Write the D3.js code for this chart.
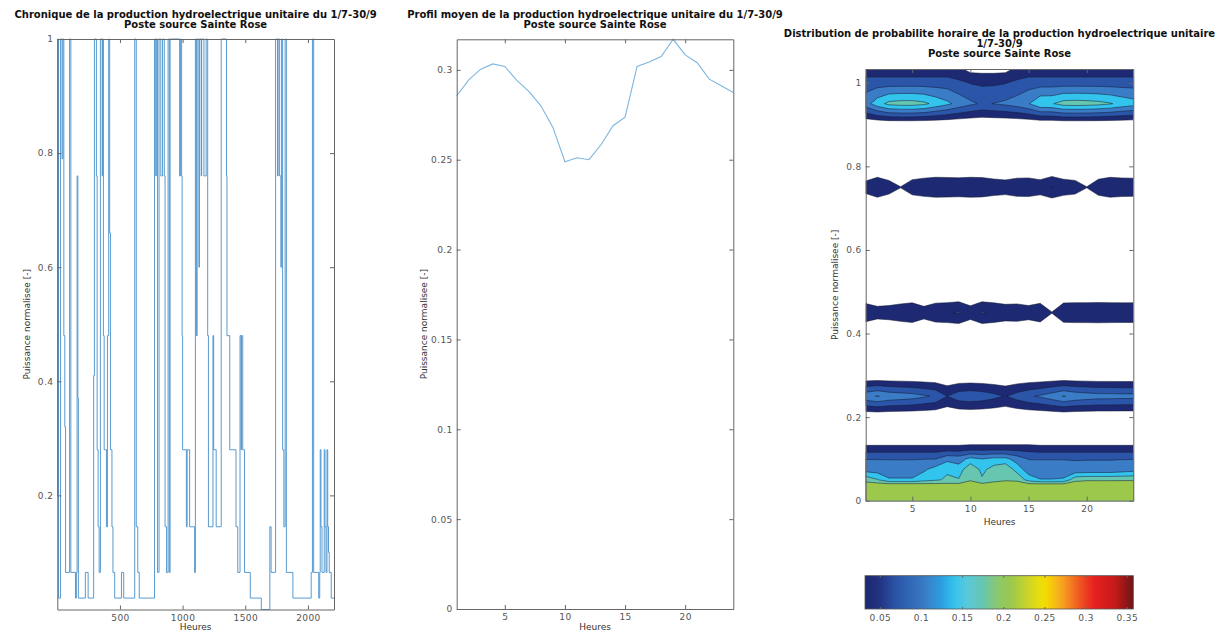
<!DOCTYPE html>
<html>
<head>
<meta charset="utf-8">
<script src="https://cdn.jsdelivr.net/npm/d3@7"></script>
<style>
  body { margin: 0; background: #fff; }
  text { font-family: "DejaVu Sans", sans-serif; }
  .title { font-weight: bold; font-size: 10px; fill: #111; }
  .label { font-size: 9px; fill: #333; }
  .axis text { font-family: "DejaVu Sans", sans-serif; font-size: 9px; fill: #555; letter-spacing: 0.4px; }
  .axis line, .axis path { stroke: #666; }
</style>
</head>
<body>
<script>
// --- chronique : change points of the hourly series (hour, normalised power)
const stepHours = [0, 3, 10, 26, 38, 44, 52, 60, 66, 98, 108, 145, 152, 158, 164, 168, 224, 246,
  290, 296, 312, 318, 326, 334, 344, 358, 362, 368, 374, 392, 400, 410, 418, 424, 436, 444, 458,
  512, 530, 618, 630, 642, 654, 776, 786, 790, 800, 812, 826, 840, 854, 860, 872, 884, 894, 900,
  976, 984, 992, 996, 1000, 1030, 1036, 1056, 1096, 1102, 1110, 1116, 1130, 1134, 1148, 1152,
  1170, 1188, 1200, 1206, 1242, 1248, 1268, 1308, 1350, 1354, 1376, 1426, 1440, 1458, 1466, 1470,
  1480, 1494, 1540, 1628, 1696, 1706, 1742, 1758, 1762, 1774, 1784, 1790, 1798, 1808, 1818, 1828,
  1880, 2026, 2036, 2046, 2086, 2094, 2098, 2104, 2112, 2130, 2136, 2144, 2152, 2158, 2164, 2170, 2186];
const stepValues = [0.2, 1, 0.02, 1, 0.79, 1, 0.48, 0.32, 0.065, 1, 0.065, 0.02, 0.065, 0.76, 0.37, 0.02, 0.065, 0.02,
  0.41, 1, 0.76, 0.28, 0.145, 0.065, 1, 0.76, 1, 0.48, 0.28, 0.145, 0.48, 1, 0.66, 0.28, 0.145, 0.065, 0.02,
  0.065, 0.02, 1, 0.145, 0.065, 0.02, 1, 0.76, 1, 0.065, 1, 0.76, 1, 0.76, 0.145, 0.065, 1, 0.065, 1,
  0.76, 1, 0.76, 0.48, 0.28, 0.145, 0.28, 0.145, 0.065, 1, 0.48, 1, 0.6, 1, 0.76, 1,
  0.76, 1, 0.48, 0.145, 0.48, 0.28, 0.145, 1, 0.76, 0.48, 0.28, 0.145, 0.065, 0.48, 0.28, 0.48,
  0.28, 0.065, 0.02, 0, 0.145, 0.065, 1, 0.76, 1, 0.76, 0.6, 1, 0.28, 0.145, 1, 0.065,
  0.02, 0.065, 1, 0.065, 0.02, 0.065, 0.28, 0.145, 0.065, 0.28, 0.145, 0.065, 0.28, 0.145, 0.1, 0.065, 0.02];
const totalHours = 2208;

// --- profil moyen
const profileHours = [1, 2, 3, 4, 5, 6, 7, 8, 9, 10, 11, 12, 13, 14, 15, 16, 17, 18, 19, 20, 21, 22, 23, 24];
const profileValues = [0.2856, 0.2944, 0.3004, 0.3033, 0.3019, 0.2941, 0.288, 0.280, 0.268, 0.2489, 0.2511, 0.250,
  0.2583, 0.2689, 0.2737, 0.3019, 0.3044, 0.3074, 0.317, 0.3083, 0.304, 0.2948, 0.2911, 0.2874];

// --- distribution : probability per hour (columns) and power level (rows)
const gridHours = [1, 2, 3, 4, 5, 6, 7, 8, 9, 10, 11, 12, 13, 14, 15, 16, 17, 18, 19, 20, 21, 22, 23, 24];
const powerLevels = [0, 0.04, 0.05, 0.075, 0.1, 0.125, 0.15, 0.2, 0.25, 0.3, 0.4, 0.45, 0.5, 0.7, 0.75, 0.8, 0.9, 0.95, 1.0, 1.05];
const prob000 = [0.235, 0.235, 0.235, 0.235, 0.235, 0.235, 0.235, 0.235, 0.235, 0.235, 0.235, 0.235, 0.235, 0.235, 0.235, 0.235, 0.235, 0.235, 0.235, 0.235, 0.235, 0.235, 0.235, 0.235];
const prob004 = [0.22, 0.22, 0.215, 0.215, 0.215, 0.215, 0.215, 0.215, 0.215, 0.22, 0.215, 0.22, 0.22, 0.22, 0.215, 0.212, 0.212, 0.212, 0.225, 0.228, 0.228, 0.228, 0.23, 0.23];
const prob005 = [0.2, 0.178, 0.145, 0.145, 0.145, 0.16, 0.17, 0.18, 0.178, 0.207, 0.18, 0.2, 0.207, 0.205, 0.16, 0.142, 0.142, 0.145, 0.2, 0.205, 0.205, 0.205, 0.205, 0.205];
const prob0075 = [0.122, 0.12, 0.115, 0.115, 0.115, 0.134, 0.153, 0.17, 0.155, 0.205, 0.165, 0.19, 0.205, 0.16, 0.12, 0.115, 0.115, 0.115, 0.11, 0.112, 0.112, 0.112, 0.118, 0.125];
const prob010 = [0.104, 0.104, 0.104, 0.104, 0.104, 0.104, 0.104, 0.13, 0.125, 0.15, 0.14, 0.15, 0.15, 0.125, 0.104, 0.104, 0.104, 0.104, 0.104, 0.104, 0.104, 0.104, 0.104, 0.104];
const prob0125 = [0.05, 0.05, 0.05, 0.05, 0.05, 0.05, 0.05, 0.05, 0.05, 0.055, 0.055, 0.055, 0.055, 0.055, 0.055, 0.05, 0.05, 0.05, 0.05, 0.05, 0.05, 0.05, 0.05, 0.05];
const prob025 = [0.13, 0.142, 0.13, 0.125, 0.12, 0.11, 0.1, 0.07, 0.09, 0.095, 0.09, 0.08, 0.068, 0.085, 0.1, 0.11, 0.125, 0.142, 0.13, 0.125, 0.12, 0.12, 0.118, 0.118];
const prob045 = [0.062, 0.05, 0.053, 0.06, 0.066, 0.05, 0.064, 0.067, 0.073, 0.052, 0.073, 0.066, 0.058, 0.06, 0.053, 0.063, 0.036, 0.065, 0.067, 0.067, 0.068, 0.067, 0.066, 0.066];
const prob075 = [0.05, 0.067, 0.052, 0.036, 0.055, 0.062, 0.067, 0.066, 0.064, 0.067, 0.065, 0.058, 0.054, 0.062, 0.063, 0.055, 0.072, 0.057, 0.052, 0.036, 0.057, 0.067, 0.063, 0.062];
const prob095 = [0.125, 0.16, 0.185, 0.19, 0.19, 0.183, 0.165, 0.148, 0.128, 0.112, 0.1, 0.106, 0.112, 0.122, 0.138, 0.17, 0.172, 0.19, 0.192, 0.19, 0.186, 0.178, 0.165, 0.155];
const prob100 = [0.088, 0.088, 0.088, 0.088, 0.088, 0.088, 0.088, 0.088, 0.078, 0.068, 0.064, 0.064, 0.068, 0.078, 0.088, 0.088, 0.088, 0.088, 0.088, 0.088, 0.088, 0.088, 0.088, 0.088];
const prob105 = [0.022, 0.022, 0.022, 0.022, 0.022, 0.022, 0.022, 0.022, 0.022, 0, 0, 0, 0, 0.022, 0.022, 0.022, 0.022, 0.022, 0.022, 0.022, 0.022, 0.022, 0.022, 0.022];
const empty = gridHours.map(() => 0);

const contourLevels = [0.035, 0.07, 0.105, 0.14, 0.175, 0.21, 0.245, 0.28, 0.315, 0.35];
const colorbarTicks = [0.05, 0.1, 0.15, 0.2, 0.25, 0.3, 0.35];
const colorbarRange = [0.032, 0.358];

// colormap (jet-like, as in the colorbar)
const cmap = d3.scaleLinear()
  .domain([0.032, 0.05, 0.07, 0.105, 0.125, 0.14, 0.155, 0.175, 0.195, 0.21, 0.235, 0.25, 0.27, 0.29, 0.31, 0.335, 0.358])
  .range(['#1c2870', '#213382', '#2a55a8', '#3a7cc6', '#2c9ee0', '#33c4ee', '#58c8dc', '#66c6b0', '#8ec86a',
    '#9cc84c', '#d8d820', '#f4e000', '#f8a820', '#f06020', '#e82020', '#c81a1a', '#6e1414'])
  .clamp(true);

const svg = d3.select('body').append('svg')
  .attr('width', 1226)
  .attr('height', 630);

const fmt = d3.format('~g');

function drawAxes(g, x, y, xTicks, yTicks) {
  const [x0, x1] = x.range();
  const [y0, y1] = y.range();
  g.append('g').attr('class', 'axis').attr('transform', `translate(0,${y0})`)
    .call(d3.axisBottom(x).tickValues(xTicks).tickSize(-4).tickSizeOuter(0).tickPadding(5).tickFormat(d3.format('d')));
  g.append('g').attr('class', 'axis').attr('transform', `translate(0,${y1})`)
    .call(d3.axisTop(x).tickValues(xTicks).tickSize(-4).tickSizeOuter(0).tickFormat(''));
  g.append('g').attr('class', 'axis').attr('transform', `translate(${x0},0)`)
    .call(d3.axisLeft(y).tickValues(yTicks).tickSize(-4).tickSizeOuter(0).tickPadding(4).tickFormat(fmt));
  g.append('g').attr('class', 'axis').attr('transform', `translate(${x1},0)`)
    .call(d3.axisRight(y).tickValues(yTicks).tickSize(-4).tickSizeOuter(0).tickFormat(''));
}

function drawTitle(lines, cx, y0) {
  lines.forEach((t, i) => {
    svg.append('text').attr('class', 'title')
      .attr('x', cx).attr('y', y0 + i * 10)
      .attr('text-anchor', 'middle').text(t);
  });
}

function drawLabels(x, y, lx, ly) {
  const [x0, x1] = x.range();
  const [y0, y1] = y.range();
  svg.append('text').attr('class', 'label')
    .attr('transform', `translate(${lx},${(y0 + y1) / 2}) rotate(-90)`)
    .attr('text-anchor', 'middle').text('Puissance normalisee [-]');
  svg.append('text').attr('class', 'label')
    .attr('x', (x0 + x1) / 2).attr('y', ly)
    .attr('text-anchor', 'middle').text('Heures');
}

// panel 1 : chronique
function drawChronique() {
  const x = d3.scaleLinear().domain([0, totalHours]).range([57.3, 334]);
  const y = d3.scaleLinear().domain([0, 1]).range([609.5, 39]);
  const pts = stepHours.map((h, i) => [h, stepValues[i]]);
  pts.push([totalHours, stepValues[stepValues.length - 1]]);

  const g = svg.append('g');
  g.append('path')
    .datum(pts)
    .attr('fill', 'none')
    .attr('stroke', '#4690cb')
    .attr('stroke-width', 0.9)
    .attr('d', d3.line().x(d => x(d[0])).y(d => y(d[1])).curve(d3.curveStepAfter));

  drawAxes(g, x, y, [500, 1000, 1500, 2000], [0.2, 0.4, 0.6, 0.8, 1]);
  drawTitle(['Chronique de la production hydroelectrique unitaire du 1/7-30/9', 'Poste source Sainte Rose'], 195.6, 17.5);
  drawLabels(x, y, 30, 629.5);
}

// panel 2 : profil moyen
function drawProfil() {
  const x = d3.scaleLinear().domain([1, 24]).range([456.7, 733.3]);
  const y = d3.scaleLinear().domain([0, d3.max(profileValues)]).range([609, 39.3]);
  const g = svg.append('g');
  g.append('path')
    .datum(profileHours.map((h, i) => [h, profileValues[i]]))
    .attr('fill', 'none')
    .attr('stroke', '#7db6df')
    .attr('stroke-width', 1.1)
    .attr('d', d3.line().x(d => x(d[0])).y(d => y(d[1])));

  drawAxes(g, x, y, [5, 10, 15, 20], [0, 0.05, 0.1, 0.15, 0.2, 0.25, 0.3]);
  drawTitle(['Profil moyen de la production hydroelectrique unitaire du 1/7-30/9', 'Poste source Sainte Rose'], 595, 17.5);
  drawLabels(x, y, 427, 629.5);
}

// panel 3 : distribution de probabilite (filled contours)
function drawDistribution() {
  const x = d3.scaleLinear().domain([1, 24]).range([865.7, 1133.3]);
  const y = d3.scaleLinear().domain([0, 1.033]).range([500.7, 69]);

  const rows = [prob000, prob004, prob005, prob0075, prob010, prob0125, empty, empty, prob025, empty,
    empty, prob045, empty, empty, prob075, empty, empty, prob095, prob100, prob105];
  const grid = rows.flat();
  const n = gridHours.length, m = powerLevels.length;

  const contours = d3.contours().size([n, m]).thresholds(contourLevels)(grid);

  // contour coordinates: sample k sits at k + 0.5
  const colHour = d3.scaleLinear().domain([0.5, n - 0.5]).range([gridHours[0], gridHours[n - 1]]);
  const rowPower = d3.scaleLinear().domain(powerLevels.map((d, i) => i + 0.5)).range(powerLevels);
  const proj = d3.geoTransform({
    point: function (px, py) { this.stream.point(x(colHour(px)), y(rowPower(py))); }
  });
  const path = d3.geoPath(proj);

  svg.append('clipPath').attr('id', 'clip3')
    .append('rect')
    .attr('x', x.range()[0]).attr('y', y.range()[1])
    .attr('width', x.range()[1] - x.range()[0]).attr('height', y.range()[0] - y.range()[1]);

  const g = svg.append('g');
  g.append('g').attr('clip-path', 'url(#clip3)')
    .selectAll('path')
    .data(contours.filter(c => c.coordinates.length))
    .enter().append('path')
    .attr('d', path)
    .attr('fill', d => cmap(d.value))
    .attr('stroke', '#151a30')
    .attr('stroke-width', 0.6)
    .attr('stroke-opacity', 0.85);

  drawAxes(g, x, y, [5, 10, 15, 20], [0, 0.2, 0.4, 0.6, 0.8, 1]);
  drawTitle(['Distribution de probabilite horaire de la production hydroelectrique unitaire', '1/7-30/9', 'Poste source Sainte Rose'], 999.5, 37);
  drawLabels(x, y, 838, 525);
}

function drawColorbar() {
  const x = d3.scaleLinear().domain(colorbarRange).range([865, 1133.3]);
  const top = 575.7, h = 33.3;
  const grad = svg.append('defs').append('linearGradient')
    .attr('id', 'cbar').attr('x1', '0%').attr('x2', '100%');
  d3.range(0, 1.0001, 0.02).forEach(t => {
    const v = colorbarRange[0] + t * (colorbarRange[1] - colorbarRange[0]);
    grad.append('stop').attr('offset', (t * 100) + '%').attr('stop-color', cmap(v));
  });
  svg.append('rect')
    .attr('x', x.range()[0]).attr('y', top)
    .attr('width', x.range()[1] - x.range()[0]).attr('height', h)
    .attr('fill', 'url(#cbar)')
    .attr('stroke', '#555').attr('stroke-width', 0.8);

  const g = svg.append('g');
  g.append('g').attr('class', 'axis').attr('transform', `translate(0,${top + h})`)
    .call(d3.axisBottom(x).tickValues(colorbarTicks).tickSize(-2).tickSizeOuter(0).tickPadding(6).tickFormat(fmt))
    .call(a => a.select('.domain').remove())
    .call(a => a.selectAll('line').attr('stroke', '#222'));
  g.append('g').attr('class', 'axis').attr('transform', `translate(0,${top})`)
    .call(d3.axisTop(x).tickValues(colorbarTicks).tickSize(-2).tickSizeOuter(0).tickFormat(''))
    .call(a => a.select('.domain').remove())
    .call(a => a.selectAll('line').attr('stroke', '#222'));
}

drawChronique();
drawProfil();
drawDistribution();
drawColorbar();
</script>
</body>
</html>
